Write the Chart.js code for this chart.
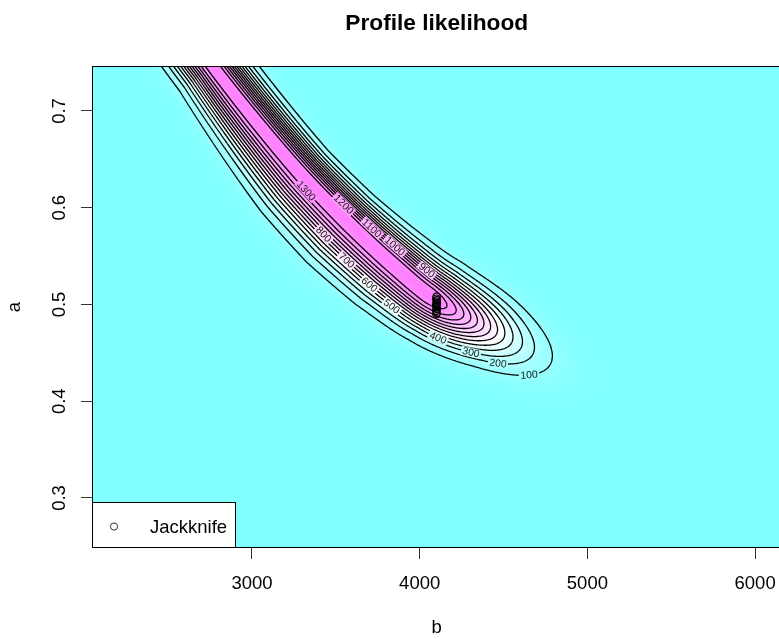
<!DOCTYPE html>
<html>
<head>
<meta charset="utf-8">
<script src="https://cdn.jsdelivr.net/npm/chart.js@4.4.1/dist/chart.umd.min.js"></script>
<style>
html, body { margin: 0; padding: 0; background: #fff; overflow: hidden; }
#wrap { width: 790px; height: 639px; }
</style>
</head>
<body>
<div id="wrap"><canvas id="chart" width="790" height="639"></canvas></div>
<script>
// axis ticks
const xTicks = [3000, 4000, 5000, 6000];
const yTicks = [0.3, 0.4, 0.5, 0.6, 0.7];

// contour levels of the profile likelihood
const levels = [100, 200, 300, 400, 500, 600, 700, 800, 900, 1000, 1100, 1200, 1300];

// crest of the likelihood ridge (b, a)
const ridgeB = [2497, 2766, 3034, 3302, 3571, 3839, 4101, 4447, 4793, 5139];
const ridgeA = [0.8099, 0.7469, 0.6890, 0.6353, 0.5868, 0.5424, 0.5041, 0.4700, 0.4370, 0.4060];

// jackknife estimates
const jackB = [4101, 4099, 4102, 4100, 4103, 4098, 4101, 4100, 4102, 4099, 4101, 4100];
const jackA = [0.5082, 0.5061, 0.5045, 0.5030, 0.5012, 0.4998, 0.4985, 0.4970, 0.4952, 0.4935, 0.4915, 0.4898];

// where each contour label sits (b, a)
const labelB = [4656, 4466, 4299, 4101, 3857, 3720, 3583, 3434, 4048, 3833, 3690, 3505, 3332];
const labelA = [0.4225, 0.4370, 0.4473, 0.4628, 0.5031, 0.5248, 0.5496, 0.5733, 0.5362, 0.5568, 0.5744, 0.5961, 0.6188];

// shape of the surface around the crest (pixels)
const spreadLow = [18, 18.2, 21.5, 24.5, 25.5, 24, 21, 20, 20, 20];
const spreadUp = [16, 16, 15.5, 15, 15.8, 17.8, 20, 20.5, 20.5, 20.5];
const PEAK = 1400, ALONG_DROP = 0.05, TIP_SHIFT = -12, TIP_SCALE = 62, TIP_NODE = 6;
const WHITE_AT = 550, MAGENTA_AT = 1400;

const FONT = "'Liberation Sans', Arial, Helvetica, sans-serif";
Chart.defaults.font.family = FONT;

// cm.colors: cyan -> white -> magenta
function surfaceColor(z) {
    if (z <= WHITE_AT) {
        const f = Math.max(0, z) / WHITE_AT;
        return [128 + 127 * f, 255, 255];
    }
    const f = Math.min(1, (z - WHITE_AT) / (MAGENTA_AT - WHITE_AT));
    return [255, 255 - 127 * f, 255];
}

// smooth the crest through its points
function smoothCrest(pts, steps) {
    const out = [];
    const n = pts.length;
    for (let i = 0; i < n - 1; i++) {
        const p0 = pts[Math.max(0, i - 1)], p1 = pts[i], p2 = pts[i + 1], p3 = pts[Math.min(n - 1, i + 2)];
        for (let k = 0; k < steps; k++) {
            const t = k / steps, t2 = t * t, t3 = t2 * t;
            out.push([0, 1].map(c => 0.5 * (2 * p1[c] + (-p0[c] + p2[c]) * t +
                (2 * p0[c] - 5 * p1[c] + 4 * p2[c] - p3[c]) * t2 + (-p0[c] + 3 * p1[c] - 3 * p2[c] + p3[c]) * t3)));
        }
    }
    out.push(pts[n - 1].slice());
    return out;
}

const surfacePlugin = {
    id: 'surface',
    beforeDatasetsDraw(chart) {
        const { ctx, chartArea: ca, scales: { x, y } } = chart;
        const STEPS = 12;
        const nodes = ridgeB.map((b, i) => [x.getPixelForValue(b), y.getPixelForValue(ridgeA[i])]);
        const pts = smoothCrest(nodes, STEPS);
        const segs = [];
        const cum = [0];
        for (let i = 0; i < pts.length - 1; i++) {
            const dx = pts[i + 1][0] - pts[i][0], dy = pts[i + 1][1] - pts[i][1];
            const len = Math.hypot(dx, dy);
            segs.push({ ax: pts[i][0], ay: pts[i][1], ux: dx / len, uy: dy / len, len });
            cum.push(cum[i] + len);
        }
        const nodeS = nodes.map((_, i) => cum[i * STEPS]);
        const sTip = nodeS[TIP_NODE];
        const spreadAt = (arr, s) => {
            if (s <= nodeS[0]) return arr[0];
            for (let i = 0; i < nodeS.length - 1; i++) {
                if (s <= nodeS[i + 1]) {
                    const f = (s - nodeS[i]) / (nodeS[i + 1] - nodeS[i]);
                    return arr[i] + (arr[i + 1] - arr[i]) * f;
                }
            }
            return arr[arr.length - 1];
        };
        const last = segs.length - 1;
        const zAtPixel = (px, py) => {
            let best = Infinity, bs = 0, bt = 0;
            for (let i = 0; i <= last; i++) {
                const g = segs[i];
                const vx = px - g.ax, vy = py - g.ay;
                let p = vx * g.ux + vy * g.uy;
                if (i > 0 && p < 0) p = 0;
                if (i < last && p > g.len) p = g.len;
                const ex = vx - g.ux * p, ey = vy - g.uy * p;
                const d2 = ex * ex + ey * ey;
                if (d2 < best) {
                    best = d2;
                    bs = cum[i] + p;
                    bt = (g.ux * vy - g.uy * vx) >= 0 ? 1 : -1;
                }
            }
            const d = Math.sqrt(best) * bt;
            const delta = bs - sTip;
            const sig = d >= 0 ? spreadAt(spreadLow, bs) : spreadAt(spreadUp, bs);
            const top = PEAK + ALONG_DROP * Math.min(0, delta);
            const along = Math.max(0, delta - TIP_SHIFT) / TIP_SCALE;
            const r2 = (d / sig) * (d / sig) + along * along;
            return top * Math.exp(-0.5 * r2);
        };

        const L0 = Math.round(ca.left), T0 = Math.round(ca.top);
        const W = Math.round(ca.right) - L0, H = Math.round(ca.bottom) - T0;
        const z = new Float32Array(W * H);
        const img = ctx.createImageData(W, H);
        for (let j = 0; j < H; j++) {
            for (let i = 0; i < W; i++) {
                const v = zAtPixel(L0 + i + 0.5, T0 + j + 0.5);
                z[j * W + i] = v;
                const c = surfaceColor(v);
                const k = (j * W + i) * 4;
                img.data[k] = c[0]; img.data[k + 1] = c[1]; img.data[k + 2] = c[2]; img.data[k + 3] = 255;
            }
        }
        ctx.putImageData(img, L0, T0);

        // contour lines by marching squares
        ctx.save();
        ctx.beginPath();
        ctx.rect(ca.left, ca.top, ca.right - ca.left, ca.bottom - ca.top);
        ctx.clip();
        const allSegs = [];
        levels.forEach(lev => {
            const out = [];
            for (let j = 0; j < H - 1; j++) {
                for (let i = 0; i < W - 1; i++) {
                    const a = z[j * W + i], b = z[j * W + i + 1];
                    const c = z[(j + 1) * W + i + 1], d = z[(j + 1) * W + i];
                    const A = a > lev, B = b > lev, C = c > lev, D = d > lev;
                    if (A === B && B === C && C === D) continue;
                    const e = {};
                    if (A !== B) e.t = [i + (lev - a) / (b - a), j];
                    if (B !== C) e.r = [i + 1, j + (lev - b) / (c - b)];
                    if (D !== C) e.b = [i + (lev - d) / (c - d), j + 1];
                    if (A !== D) e.l = [i, j + (lev - a) / (d - a)];
                    const keys = Object.keys(e);
                    if (keys.length === 2) {
                        out.push([e[keys[0]], e[keys[1]]]);
                    } else if (keys.length === 4) {
                        const mid = (a + b + c + d) / 4 > lev;
                        if (mid === A) { out.push([e.t, e.r]); out.push([e.b, e.l]); }
                        else { out.push([e.t, e.l]); out.push([e.r, e.b]); }
                    }
                }
            }
            allSegs.push(out.map(sg => [L0 + sg[0][0] + 0.5, T0 + sg[0][1] + 0.5, L0 + sg[1][0] + 0.5, T0 + sg[1][1] + 0.5]));
        });
        ctx.strokeStyle = '#000';
        ctx.lineWidth = 1.3;
        allSegs.forEach(list => {
            ctx.beginPath();
            list.forEach(s => { ctx.moveTo(s[0], s[1]); ctx.lineTo(s[2], s[3]); });
            ctx.stroke();
        });

        // contour labels
        ctx.font = '10.4px ' + FONT;
        ctx.textAlign = 'center';
        ctx.textBaseline = 'middle';
        levels.forEach((lev, li) => {
            const tx = x.getPixelForValue(labelB[li]), ty = y.getPixelForValue(labelA[li]);
            let best = null, bd = Infinity;
            allSegs[li].forEach(s => {
                const d = Math.hypot((s[0] + s[2]) / 2 - tx, (s[1] + s[3]) / 2 - ty);
                if (d < bd) { bd = d; best = s; }
            });
            if (!best) return;
            const cx = (best[0] + best[2]) / 2, cy = (best[1] + best[3]) / 2;
            let ang = Math.atan2(best[3] - best[1], best[2] - best[0]);
            if (ang > Math.PI / 2) ang -= Math.PI;
            if (ang < -Math.PI / 2) ang += Math.PI;
            const txt = String(lev);
            const w = ctx.measureText(txt).width;
            const gi = Math.min(W - 1, Math.max(0, Math.round(cx - L0)));
            const gj = Math.min(H - 1, Math.max(0, Math.round(cy - T0)));
            const col = surfaceColor(z[gj * W + gi]);
            ctx.save();
            ctx.translate(cx, cy);
            ctx.rotate(ang);
            ctx.fillStyle = 'rgb(' + col.map(Math.round).join(',') + ')';
            ctx.fillRect(-w / 2 - 1.5, -4.5, w + 3, 9);
            ctx.fillStyle = '#1a1a1a';
            ctx.fillText(txt, 0, 0.5);
            ctx.restore();
        });
        ctx.restore();

        // plot box
        ctx.save();
        ctx.strokeStyle = '#000';
        ctx.lineWidth = 1;
        ctx.strokeRect(ca.left + 0.5, ca.top + 0.5, ca.right - ca.left - 1, ca.bottom - ca.top - 1);
        ctx.restore();
    },
    afterDraw(chart) {
        const { ctx, chartArea: ca, scales: { y } } = chart;
        ctx.save();
        // title
        ctx.fillStyle = '#000';
        ctx.font = 'bold 22.7px ' + FONT;
        ctx.textAlign = 'center';
        ctx.textBaseline = 'alphabetic';
        ctx.fillText('Profile likelihood', (ca.left + ca.right) / 2, 29.5);
        // y tick labels, parallel to the axis
        ctx.font = '18.5px ' + FONT;
        y.ticks.forEach(t => {
            ctx.save();
            ctx.translate(65, y.getPixelForValue(t.value));
            ctx.rotate(-Math.PI / 2);
            ctx.fillText(String(t.value), 0, 0);
            ctx.restore();
        });
        // legend
        const lx = ca.left, ly = 502, lw = 144, lh = ca.bottom - 502;
        ctx.fillStyle = '#fff';
        ctx.fillRect(lx, ly, lw, lh);
        ctx.strokeStyle = '#000';
        ctx.lineWidth = 1;
        ctx.strokeRect(lx + 0.5, ly + 0.5, lw - 1, lh - 1);
        ctx.beginPath();
        ctx.arc(lx + 22, ly + 24.5, 3.6, 0, Math.PI * 2);
        ctx.strokeStyle = '#333';
        ctx.stroke();
        ctx.fillStyle = '#000';
        ctx.textAlign = 'left';
        ctx.fillText(chart.data.datasets[0].label, lx + 58, ly + 31);
        ctx.restore();
    }
};

new Chart(document.getElementById('chart'), {
    type: 'scatter',
    data: {
        datasets: [{
            label: 'Jackknife',
            data: jackB.map((b, i) => ({ x: b, y: jackA[i] })),
            pointRadius: 3.6,
            pointBorderWidth: 1.2,
            pointBorderColor: '#000',
            pointBackgroundColor: 'rgba(0,0,0,0)',
        }],
    },
    options: {
        responsive: false,
        animation: false,
        devicePixelRatio: 1,
        events: [],
        layout: { padding: { top: 66, right: 8, left: 0, bottom: 0 } },
        plugins: { legend: { display: false }, tooltip: { enabled: false }, title: { display: false } },
        scales: {
            x: {
                type: 'linear',
                min: 2046,
                max: 6157,
                afterBuildTicks: scale => { scale.ticks = xTicks.map(v => ({ value: v })); },
                afterFit: scale => { scale.height = 91; },
                grid: { drawOnChartArea: false, tickLength: 11, color: '#333' },
                border: { display: false },
                ticks: { color: '#000', font: { size: 18.5 }, padding: 14, maxRotation: 0, callback: v => String(v) },
                title: { display: true, text: 'b', color: '#000', font: { size: 18.5 }, padding: { top: 0, bottom: 0 } },
            },
            y: {
                type: 'linear',
                min: 0.2483,
                max: 0.7465,
                afterBuildTicks: scale => { scale.ticks = yTicks.map(v => ({ value: v })); },
                afterFit: scale => { scale.width = 92; },
                grid: { drawOnChartArea: false, tickLength: 11, color: '#333' },
                border: { display: false },
                ticks: { display: false },
                title: { display: true, text: 'a', color: '#000', font: { size: 18.5 }, padding: { top: 4, bottom: 4 } },
            },
        },
    },
    plugins: [surfacePlugin],
});
</script>
</body>
</html>
